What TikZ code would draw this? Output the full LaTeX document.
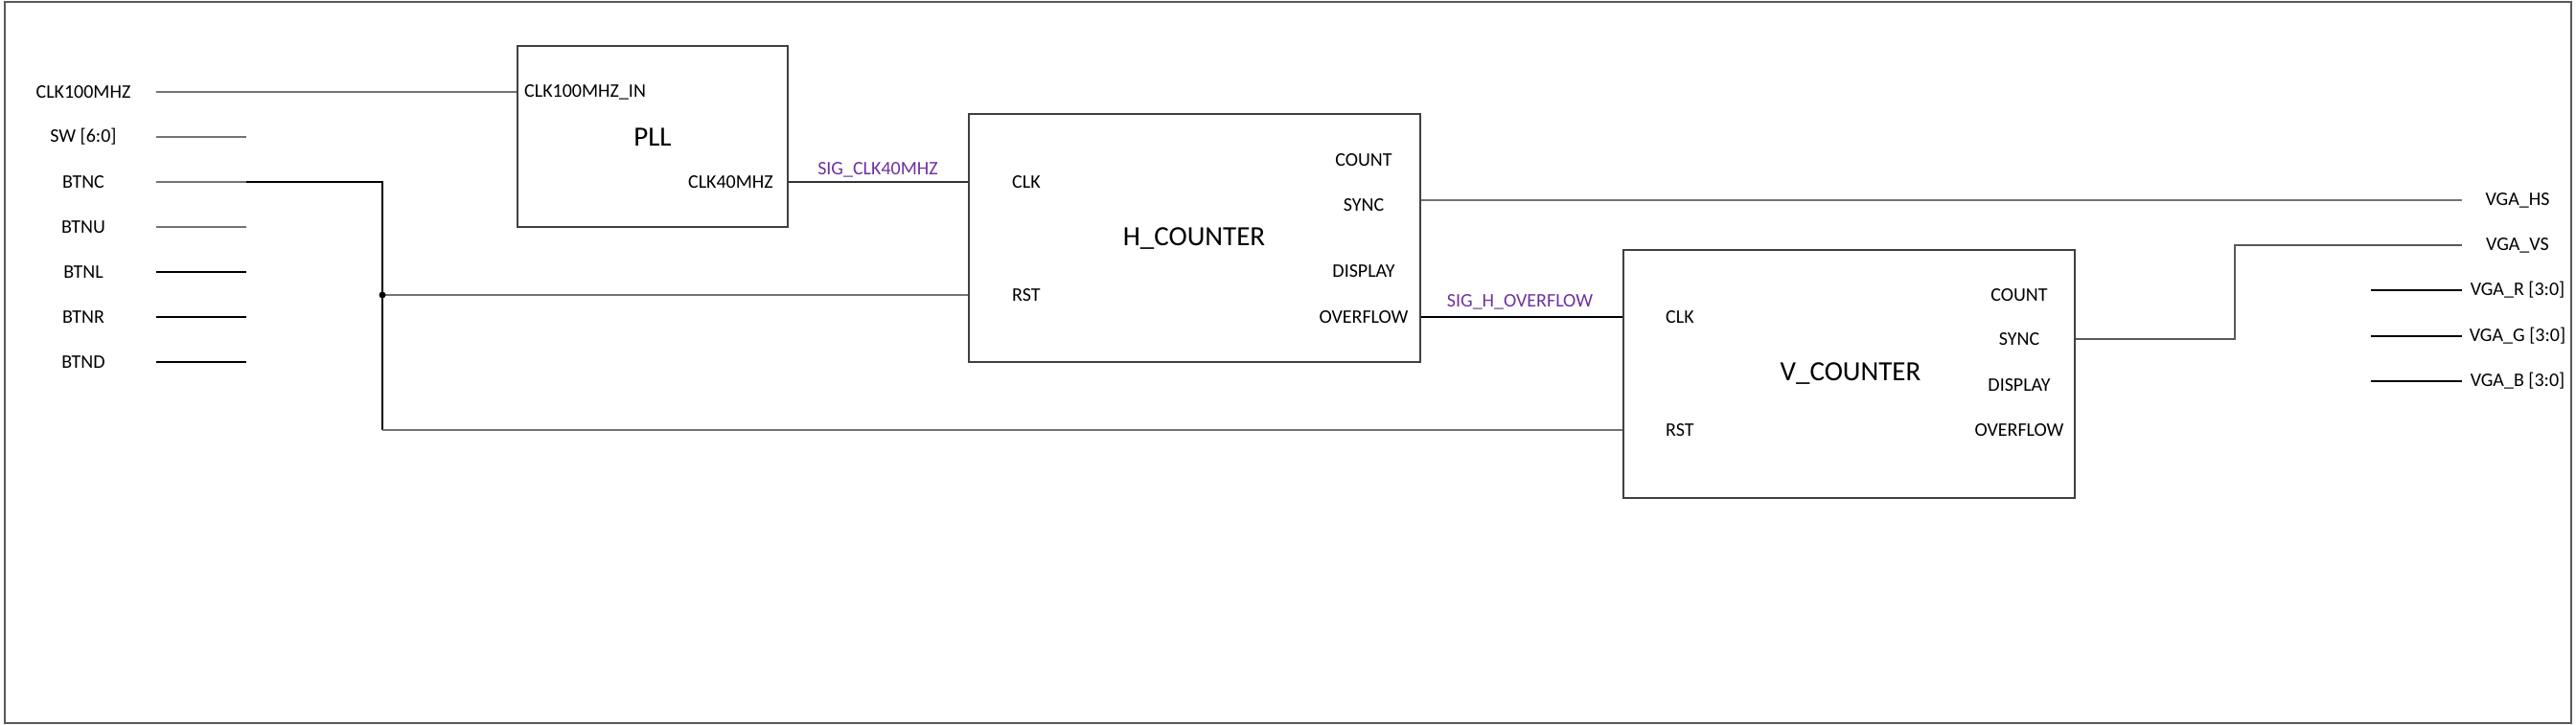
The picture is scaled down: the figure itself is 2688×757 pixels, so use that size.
\documentclass[tikz,border=0pt]{standalone}
\usepackage{fontspec}
\setmainfont{Carlito}
\definecolor{sigpurple}{HTML}{7030A0}

\begin{document}
\begin{tikzpicture}[x=1pt,y=-1pt,
  block/.style={draw=black!75, line width=2pt, fill=white, inner sep=0pt},
  pin/.style={font=\fontsize{20}{24}\selectfont, inner sep=0pt},
  title/.style={font=\fontsize{29}{35}\selectfont, inner sep=0pt},
  sig/.style={pin, text=sigpurple},
  wire/.style={draw=black!55, line width=2.2pt},
  wireb/.style={draw=black, line width=1.2pt}]
\useasboundingbox (0,0) rectangle (2688,757);
\draw[draw=black!65, line width=2pt] (4.5,2) rectangle (2683,755);
\node[block, minimum width=282pt, minimum height=189pt] (PLL) at (681,142.5) {};
\node[block, minimum width=471pt, minimum height=259pt] (HCNT) at (1246.5,248.5) {};
\node[block, minimum width=471pt, minimum height=259pt] (VCNT) at (1929.5,390.5) {};
\node[title] (PLLT) at (681,143) {PLL};
\node[title] (HCNTT) at (1246,249) {H\_COUNTER};
\node[title] (VCNTT) at (1931,390) {V\_COUNTER};
\node[pin, anchor=west] (PLLIN) at (547,96) {CLK100MHZ\_IN};
\node[pin, anchor=east] (PLLOUT) at (807,190) {CLK40MHZ};
\node[pin, anchor=west] (HCLK) at (1056,190) {CLK};
\node[pin, anchor=west] (HRST) at (1056,308) {RST};
\node[pin] (HCOUNT) at (1423,167) {COUNT};
\node[pin] (HSYNC) at (1423,214) {SYNC};
\node[pin] (HDISP) at (1423,283) {DISPLAY};
\node[pin] (HOVF) at (1423,331) {OVERFLOW};
\node[pin, anchor=west] (VCLK) at (1738,331) {CLK};
\node[pin, anchor=west] (VRST) at (1738,449) {RST};
\node[pin] (VCOUNT) at (2107,308) {COUNT};
\node[pin] (VSYNC) at (2107,354) {SYNC};
\node[pin] (VDISP) at (2107,402) {DISPLAY};
\node[pin] (VOVF) at (2107,449) {OVERFLOW};
\node[sig] (SCLK40) at (916,177) {SIG\_CLK40MHZ};
\node[sig] (SHOVF) at (1586,315) {SIG\_H\_OVERFLOW};
\node[pin] (LCLK) at (87,96) {CLK100MHZ};
\node[pin] (LSW) at (87,143) {SW [6:0]};
\node[pin] (LBTNC) at (87,190) {BTNC};
\node[pin] (LBTNU) at (87,237) {BTNU};
\node[pin] (LBTNL) at (87,284) {BTNL};
\node[pin] (LBTNR) at (87,331) {BTNR};
\node[pin] (LBTND) at (87,378) {BTND};
\node[pin] (RHS) at (2627,209) {VGA\_HS};
\node[pin] (RVS) at (2627,256) {VGA\_VS};
\node[pin] (RR) at (2627,303) {VGA\_R [3:0]};
\node[pin] (RG) at (2627,351) {VGA\_G [3:0]};
\node[pin] (RB) at (2627,398) {VGA\_B [3:0]};
\coordinate (LCLKa) at (163,96);
\coordinate (LSWa) at (163,143);
\coordinate (LSWb) at (257,143);
\coordinate (LBTNCa) at (163,190);
\coordinate (LBTNCb) at (257,190);
\coordinate (LBTNCk) at (399,190);
\coordinate (LBTNUa) at (163,237);
\coordinate (LBTNUb) at (257,237);
\coordinate (LBTNLa) at (163,284);
\coordinate (LBTNLb) at (257,284);
\coordinate (LBTNRa) at (163,331);
\coordinate (LBTNRb) at (257,331);
\coordinate (LBTNDa) at (163,378);
\coordinate (LBTNDb) at (257,378);
\coordinate (JRST) at (399,308);
\coordinate (KRST) at (399,449);
\coordinate (RHSa) at (2569,209);
\coordinate (RVSk) at (2332,256);
\coordinate (RVSa) at (2569,256);
\coordinate (RRa) at (2474,303);
\coordinate (RRb) at (2569,303);
\coordinate (RGa) at (2474,351);
\coordinate (RGb) at (2569,351);
\coordinate (RBa) at (2474,398);
\coordinate (RBb) at (2569,398);
\draw[wire] (LCLKa) -- (LCLKa -| PLL.west);
\draw[wire] (LSWa) -- (LSWb);
\draw[wire] (LBTNCa) -- (LBTNCb);
\draw[wireb] (LBTNCb) -- (LBTNCk) -- (KRST);
\draw[wire] (LBTNUa) -- (LBTNUb);
\draw[wireb] (LBTNLa) -- (LBTNLb);
\draw[wireb] (LBTNRa) -- (LBTNRb);
\draw[wireb] (LBTNDa) -- (LBTNDb);
\draw[wire] (JRST) -- (JRST -| HCNT.west);
\draw[wire] (KRST) -- (KRST -| VCNT.west);
\fill (JRST) circle (3.5pt);
\draw[wireb, draw=black!80] (PLL.east |- PLLOUT) -- (HCNT.west |- HCLK);
\draw[wireb] (HCNT.east |- HOVF) -- (VCNT.west |- VCLK);
\draw[wire] (HCNT.east |- RHSa) -- (RHSa);
\draw[wire, draw=black!65] (VCNT.east |- VSYNC) -| (RVSk) -- (RVSa);
\draw[wireb] (RRa) -- (RRb);
\draw[wireb] (RGa) -- (RGb);
\draw[wireb] (RBa) -- (RBb);
\end{tikzpicture}
\end{document}
